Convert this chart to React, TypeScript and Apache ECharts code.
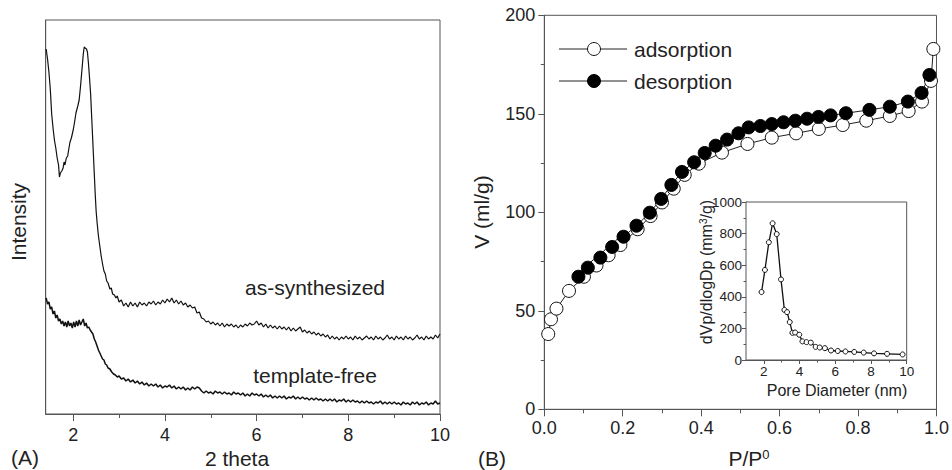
import React, { useEffect, useRef } from "react";
import * as echarts from "echarts";

// ---- Panel A: XRD patterns (2 theta, relative intensity in arbitrary units) ----
const asSynthesized: [number, number][] = [
  [1.41, 365], [1.44, 355], [1.47, 342], [1.5, 325], [1.53, 300], [1.56, 286], [1.59, 274], [1.62, 266],
  [1.65, 256], [1.68, 249], [1.7, 237], [1.72, 241], [1.75, 243], [1.78, 246], [1.8, 252], [1.82, 249],
  [1.85, 256], [1.88, 258], [1.9, 264], [1.93, 272], [1.96, 276], [2.0, 284], [2.03, 292], [2.06, 301],
  [2.1, 308], [2.13, 314], [2.16, 328], [2.19, 344], [2.22, 360], [2.24, 367], [2.26, 366], [2.29, 365],
  [2.31, 362], [2.33, 352], [2.35, 340], [2.38, 320], [2.4, 300], [2.42, 280], [2.44, 260], [2.46, 240],
  [2.48, 220], [2.5, 203], [2.52, 192], [2.55, 178], [2.58, 168], [2.61, 158], [2.64, 150], [2.67, 143],
  [2.7, 140], [2.73, 133], [2.76, 131], [2.8, 125], [2.83, 126], [2.86, 120], [2.9, 119], [2.93, 116],
  [2.96, 118], [3.0, 112], [3.05, 114], [3.1, 108], [3.15, 111], [3.2, 107], [3.25, 112], [3.3, 108],
  [3.35, 111], [3.4, 107], [3.45, 112], [3.5, 109], [3.55, 111], [3.6, 108], [3.65, 112], [3.7, 110],
  [3.75, 113], [3.8, 109], [3.85, 112], [3.9, 110], [3.95, 114], [4.0, 111], [4.05, 115], [4.1, 112],
  [4.15, 116], [4.2, 111], [4.25, 114], [4.3, 110], [4.35, 113], [4.4, 109], [4.45, 111], [4.5, 107],
  [4.55, 109], [4.6, 106], [4.65, 107], [4.7, 101], [4.75, 102], [4.8, 96], [4.85, 95], [4.9, 92],
  [4.95, 93], [5.0, 90], [5.05, 92], [5.1, 89], [5.15, 91], [5.2, 88], [5.25, 91], [5.3, 87],
  [5.35, 90], [5.4, 88], [5.45, 90], [5.5, 87], [5.55, 89], [5.6, 86], [5.65, 89], [5.7, 87],
  [5.75, 90], [5.8, 88], [5.85, 91], [5.9, 89], [5.95, 90], [6.0, 93], [6.05, 89], [6.1, 91],
  [6.15, 87], [6.2, 90], [6.25, 86], [6.3, 89], [6.35, 86], [6.4, 88], [6.45, 85], [6.5, 88],
  [6.55, 85], [6.6, 87], [6.65, 84], [6.7, 87], [6.75, 83], [6.8, 86], [6.85, 83], [6.9, 85],
  [6.95, 87], [7.0, 82], [7.05, 84], [7.1, 81], [7.15, 83], [7.2, 80], [7.25, 82], [7.3, 79],
  [7.35, 81], [7.4, 78], [7.45, 80], [7.5, 77], [7.55, 79], [7.6, 75], [7.65, 78], [7.7, 75],
  [7.75, 77], [7.8, 74], [7.85, 77], [7.9, 75], [7.95, 78], [8.0, 75], [8.05, 77], [8.1, 74],
  [8.15, 78], [8.2, 75], [8.25, 77], [8.3, 74], [8.35, 76], [8.4, 78], [8.45, 75], [8.5, 77],
  [8.55, 74], [8.6, 78], [8.65, 75], [8.7, 77], [8.75, 74], [8.8, 76], [8.85, 79], [8.9, 75],
  [8.95, 77], [9.0, 74], [9.05, 78], [9.1, 75], [9.15, 77], [9.2, 74], [9.25, 78], [9.3, 75],
  [9.35, 77], [9.4, 74], [9.45, 76], [9.5, 79], [9.55, 75], [9.6, 77], [9.65, 74], [9.7, 78],
  [9.75, 75], [9.8, 77], [9.85, 75], [9.9, 79], [9.95, 76], [10.0, 80],
];

const templateFree: [number, number][] = [
  [1.41, 116], [1.44, 110], [1.47, 112], [1.5, 105], [1.53, 107], [1.56, 100], [1.59, 103], [1.62, 96],
  [1.65, 99], [1.68, 93], [1.71, 95], [1.74, 90], [1.77, 93], [1.8, 88], [1.83, 92], [1.86, 87],
  [1.89, 93], [1.92, 88], [1.95, 91], [1.98, 86], [2.01, 92], [2.04, 87], [2.07, 93], [2.1, 88],
  [2.13, 94], [2.16, 89], [2.19, 92], [2.22, 95], [2.25, 88], [2.28, 91], [2.31, 86], [2.34, 87],
  [2.37, 84], [2.4, 82], [2.43, 80], [2.46, 75], [2.49, 72], [2.52, 68], [2.55, 64], [2.58, 61],
  [2.61, 58], [2.64, 55], [2.67, 54], [2.7, 50], [2.73, 49], [2.76, 46], [2.8, 45], [2.84, 42],
  [2.88, 40], [2.92, 39], [2.96, 37], [3.0, 38], [3.05, 35], [3.1, 36], [3.15, 33], [3.2, 35],
  [3.25, 32], [3.3, 34], [3.35, 31], [3.4, 33], [3.45, 30], [3.5, 32], [3.55, 29], [3.6, 31],
  [3.65, 28], [3.7, 30], [3.75, 28], [3.8, 30], [3.85, 27], [3.9, 29], [3.95, 26], [4.0, 28],
  [4.05, 27], [4.1, 29], [4.15, 26], [4.2, 28], [4.25, 25], [4.3, 27], [4.35, 25], [4.4, 27],
  [4.45, 24], [4.5, 26], [4.55, 24], [4.6, 27], [4.65, 25], [4.7, 27], [4.75, 26], [4.8, 23],
  [4.85, 21], [4.9, 23], [4.95, 21], [5.0, 22], [5.05, 20], [5.1, 23], [5.15, 21], [5.2, 22],
  [5.25, 20], [5.3, 22], [5.35, 20], [5.4, 21], [5.45, 19], [5.5, 22], [5.55, 20], [5.6, 21],
  [5.65, 19], [5.7, 21], [5.75, 18], [5.8, 20], [5.85, 18], [5.9, 21], [5.95, 19], [6.0, 20],
  [6.05, 18], [6.1, 20], [6.15, 17], [6.2, 19], [6.25, 17], [6.3, 19], [6.35, 16], [6.4, 18],
  [6.45, 16], [6.5, 18], [6.55, 16], [6.6, 18], [6.65, 15], [6.7, 17], [6.75, 16], [6.8, 18],
  [6.85, 15], [6.9, 17], [6.95, 15], [7.0, 17], [7.05, 15], [7.1, 16], [7.15, 14], [7.2, 16],
  [7.25, 14], [7.3, 16], [7.35, 14], [7.4, 15], [7.45, 13], [7.5, 15], [7.55, 13], [7.6, 15],
  [7.65, 13], [7.7, 15], [7.75, 12], [7.8, 14], [7.85, 13], [7.9, 15], [7.95, 12], [8.0, 14],
  [8.05, 12], [8.1, 14], [8.15, 12], [8.2, 13], [8.25, 11], [8.3, 13], [8.35, 11], [8.4, 13],
  [8.45, 11], [8.5, 12], [8.55, 10], [8.6, 12], [8.65, 11], [8.7, 13], [8.75, 10], [8.8, 12],
  [8.85, 10], [8.9, 12], [8.95, 10], [9.0, 12], [9.05, 10], [9.1, 11], [9.15, 9], [9.2, 12],
  [9.25, 10], [9.3, 11], [9.35, 9], [9.4, 12], [9.45, 10], [9.5, 12], [9.55, 9], [9.6, 11],
  [9.65, 10], [9.7, 12], [9.75, 9], [9.8, 11], [9.85, 10], [9.9, 13], [9.95, 10], [10.0, 11],
];

const xrdMajorTicks = [2, 4, 6, 8, 10];
const xrdMinorTicks = [3, 5, 7, 9];

// ---- Panel B: N2 isotherm ----
const adsP = [0.01, 0.017, 0.031, 0.063, 0.101, 0.133, 0.164, 0.194, 0.238, 0.271, 0.3, 0.33, 0.358,
  0.394, 0.453, 0.518, 0.58, 0.642, 0.7, 0.761, 0.821, 0.881, 0.929, 0.963, 0.986, 0.992];
const adsV = [38.2, 45.7, 51.1, 60.1, 67.3, 73.0, 78.2, 83.4, 91.4, 98.1, 105.0, 112.0, 119.0,
  124.7, 130.3, 134.7, 137.9, 140.1, 142.3, 144.3, 146.5, 148.9, 151.4, 156.2, 166.7, 182.9];

const desP = [0.087, 0.111, 0.143, 0.173, 0.202, 0.235, 0.269, 0.298, 0.324, 0.351, 0.382, 0.409,
  0.437, 0.466, 0.495, 0.521, 0.551, 0.58, 0.61, 0.64, 0.67, 0.699, 0.73, 0.769, 0.829, 0.881,
  0.927, 0.962, 0.982];
const desV = [67.3, 71.9, 77.0, 82.4, 87.6, 93.2, 99.8, 106.8, 113.9, 120.5, 125.4, 130.1, 133.8,
  136.9, 140.1, 143.1, 143.8, 144.8, 145.7, 146.5, 147.5, 148.4, 149.2, 150.3, 152.0, 153.6,
  156.2, 160.6, 169.7];

// ---- Inset: pore size distribution ----
const poreD = [1.87, 2.06, 2.28, 2.49, 2.72, 2.96, 3.15, 3.3, 3.45, 3.6, 3.75, 3.98, 4.16, 4.39,
  4.63, 4.9, 5.13, 5.42, 5.76, 6.14, 6.57, 7.06, 7.59, 8.17, 8.9, 9.77];
const poreDV = [430, 570, 745, 865, 797, 510, 317, 303, 240, 172, 174, 160, 118, 113, 110, 83, 79,
  75, 60, 57, 54, 51, 47, 42, 39, 35];
const insetMajorTicks = [2, 4, 6, 8, 10];
const insetMinorTicks = [3, 5, 7, 9];

const FONT = "'Liberation Sans', Arial, Helvetica, sans-serif";
const AXIS = "#555";
const TXT = "#222";

const zip = (a: number[], b: number[]) => a.map((v, i) => [v, b[i]]);

function txt(text: string, x: number, y: number, size: number, extra: any = {}) {
  return {
    type: "text",
    x,
    y,
    rotation: extra.rotation || 0,
    z: 100,
    style: {
      text,
      fill: TXT,
      fontSize: size,
      fontFamily: FONT,
      textAlign: extra.align || "center",
      align: extra.align || "center",
      textVerticalAlign: "middle",
      verticalAlign: "middle",
      rich: extra.rich,
    },
  };
}

export default function App() {
  const ref = useRef<HTMLDivElement>(null);
  useEffect(() => {
    if (!ref.current) return;
    const chart = echarts.init(ref.current, null, { renderer: "svg" });
    const lbl = (size: number, margin: number, extra: any = {}) => ({
      color: TXT, fontSize: size, fontFamily: FONT, margin, ...extra,
    });
    const plain = (v: number) => String(v);
    const line = { show: true, lineStyle: { color: AXIS, width: 1 } };
    const option: any = {
      animation: false,
      backgroundColor: "#fff",
      grid: [
        { left: 45.7, top: 20, width: 394.3, height: 394, show: true, borderColor: AXIS, borderWidth: 1 },
        { left: 544.3, top: 15.3, width: 394.7, height: 394, show: true, borderColor: AXIS, borderWidth: 1 },
        { left: 746, top: 202, width: 160.7, height: 158, show: true, borderColor: AXIS, borderWidth: 1, backgroundColor: "#fff", z: 5 },
      ],
      xAxis: [
        {
          gridIndex: 0, position: "bottom", type: "value", min: 1.4, max: 10, axisLine: line, splitLine: { show: false },
          axisTick: { show: true, customValues: xrdMajorTicks, length: 7, lineStyle: { color: AXIS } },
          axisLabel: lbl(18, 12, { customValues: xrdMajorTicks, formatter: plain }),
        },
        {
          gridIndex: 0, position: "bottom", type: "value", min: 1.4, max: 10, axisLine: { show: false }, splitLine: { show: false },
          axisTick: { show: true, customValues: xrdMinorTicks, length: 4, lineStyle: { color: AXIS } },
          axisLabel: { show: false },
        },
        {
          gridIndex: 1, position: "bottom", type: "value", min: 0, max: 1, interval: 0.2, axisLine: line, splitLine: { show: false },
          axisTick: { show: true, length: 7, lineStyle: { color: AXIS } },
          minorTick: { show: true, splitNumber: 2, length: 4, lineStyle: { color: AXIS } },
          axisLabel: lbl(18, 10, { formatter: (v: number) => v.toFixed(1) }),
        },
        {
          gridIndex: 2, position: "bottom", type: "value", min: 1, max: 10, axisLine: line, splitLine: { show: false },
          axisTick: { show: true, customValues: insetMajorTicks, length: 4, lineStyle: { color: AXIS } },
          axisLabel: lbl(13.5, 4, { customValues: insetMajorTicks, formatter: plain }),
        },
        {
          gridIndex: 2, position: "bottom", type: "value", min: 1, max: 10, axisLine: { show: false }, splitLine: { show: false },
          axisTick: { show: true, customValues: insetMinorTicks, length: 2.5, lineStyle: { color: AXIS } },
          axisLabel: { show: false },
        },
      ],
      yAxis: [
        {
          gridIndex: 0, position: "left", type: "value", min: 0, max: 394, axisLine: line, splitLine: { show: false },
          axisTick: { show: false }, axisLabel: { show: false },
        },
        {
          gridIndex: 1, position: "left", type: "value", min: 0, max: 200, interval: 50, axisLine: line, splitLine: { show: false },
          axisTick: { show: true, length: 6, lineStyle: { color: AXIS } },
          minorTick: { show: true, splitNumber: 2, length: 3.5, lineStyle: { color: AXIS } },
          axisLabel: lbl(18, 9, { formatter: plain }),
        },
        {
          gridIndex: 2, position: "left", type: "value", min: 0, max: 1000, interval: 200, axisLine: line, splitLine: { show: false },
          axisTick: { show: true, length: 4, lineStyle: { color: AXIS } },
          minorTick: { show: true, splitNumber: 2, length: 2.5, lineStyle: { color: AXIS } },
          axisLabel: lbl(13.5, 4, { formatter: plain }),
        },
      ],
      series: [
        {
          name: "as-synthesized", type: "line", xAxisIndex: 0, yAxisIndex: 0, data: asSynthesized,
          showSymbol: false, symbol: "none", lineStyle: { color: "#111", width: 1.2 },
        },
        {
          name: "template-free", type: "line", xAxisIndex: 0, yAxisIndex: 0, data: templateFree,
          showSymbol: false, symbol: "none", lineStyle: { color: "#111", width: 1.5 },
        },
        {
          name: "adsorption", type: "line", xAxisIndex: 2, yAxisIndex: 1, data: zip(adsP, adsV),
          symbol: "circle", symbolSize: 13,
          itemStyle: { color: "#fff", borderColor: "#111", borderWidth: 1 },
          lineStyle: { color: "#222", width: 1 },
        },
        {
          name: "desorption", type: "line", xAxisIndex: 2, yAxisIndex: 1, data: zip(desP, desV),
          symbol: "circle", symbolSize: 13,
          itemStyle: { color: "#000", borderColor: "#000", borderWidth: 1 },
          lineStyle: { color: "#222", width: 1 },
        },
        {
          name: "pore size", type: "line", xAxisIndex: 3, yAxisIndex: 2, data: zip(poreD, poreDV), z: 10,
          symbol: "circle", symbolSize: 5,
          itemStyle: { color: "#fff", borderColor: "#111", borderWidth: 1 },
          lineStyle: { color: "#111", width: 1.3 },
        },
      ],
      graphic: [
        txt("Intensity", 18, 222, 21, { rotation: Math.PI / 2 }),
        txt("as-synthesized", 315, 287, 21),
        txt("template-free", 315, 375, 21),
        txt("2 theta", 237, 458, 21),
        txt("(A)", 25, 457, 21),
        txt("(B)", 492, 458, 21),
        txt("V (ml/g)", 481, 212, 21, { rotation: Math.PI / 2 }),
        txt("P/P{sup|0}", 749, 458, 21, { rich: { sup: { fontSize: 13, fontFamily: FONT, fill: TXT, verticalAlign: "top", padding: [0, 0, 8, 0] } } }),
        { type: "line", z: 100, shape: { x1: 559, y1: 49, x2: 627, y2: 49 }, style: { stroke: "#222", lineWidth: 1 } },
        { type: "circle", z: 101, shape: { cx: 594, cy: 49, r: 6.5 }, style: { fill: "#fff", stroke: "#111", lineWidth: 1 } },
        { type: "line", z: 100, shape: { x1: 559, y1: 81, x2: 627, y2: 81 }, style: { stroke: "#222", lineWidth: 1 } },
        { type: "circle", z: 101, shape: { cx: 594, cy: 81, r: 6.5 }, style: { fill: "#000", stroke: "#000", lineWidth: 1 } },
        txt("adsorption", 634, 49, 21, { align: "left" }),
        txt("desorption", 634, 81, 21, { align: "left" }),
        txt("Pore Diameter (nm)", 837, 390, 16),
        txt("dVp/dlogDp (mm{sup|3}/g)", 706, 272, 16, { rotation: Math.PI / 2, rich: { sup: { fontSize: 10, fontFamily: FONT, fill: TXT, verticalAlign: "top", padding: [0, 0, 6, 0] } } }),
      ],
    };
    chart.setOption(option);
    return () => chart.dispose();
  }, []);
  return (
    <div
      ref={ref}
      style={{ position: "fixed", left: 0, top: 0, width: 952, height: 470, background: "#fff" }}
    />
  );
}
